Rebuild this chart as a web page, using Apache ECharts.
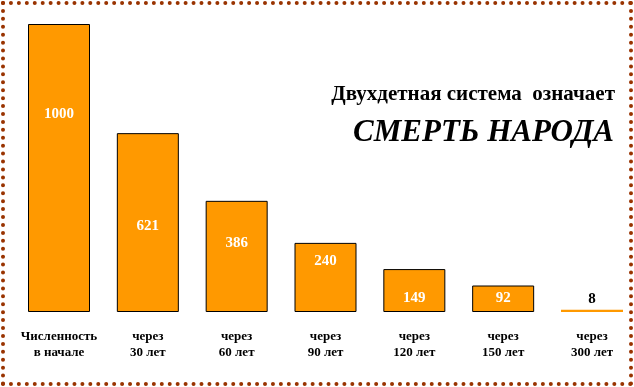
<!DOCTYPE html>
<html>
<head>
<meta charset="utf-8">
<script src="https://cdn.jsdelivr.net/npm/echarts@6/dist/echarts.min.js"></script>
<style>
  html, body { margin: 0; padding: 0; background: #fff; }
  #chart { position: absolute; left: 0; top: 0; width: 634px; height: 387px; }
  #frame { position: absolute; left: 1px; top: 1px; width: 632px; height: 385px;
           box-sizing: border-box; border: 4px dotted #993300; pointer-events: none; }
</style>
</head>
<body>
<div id="chart"></div>
<div id="frame"></div>
<script>
// ---- data ----
const categories = ['Численность\nв начале', 'через\n30 лет', 'через\n60 лет', 'через\n90 лет', 'через\n120 лет', 'через\n150 лет', 'через\n300 лет'];
const population = [1000, 621, 386, 240, 149, 92, 8];
const titleLine1 = 'Двухдетная система  означает';
const titleLine2 = 'СМЕРТЬ НАРОДА';

// ---- styles (not data) ----
const serif = "'Liberation Serif', 'Times New Roman', serif";
const labelLift = [190, 78, 61, 43, 6, 6, 3];

const chart = echarts.init(document.getElementById('chart'), null, { renderer: 'canvas' });

const seriesData = population.map((v, i) => {
  const last = i === population.length - 1;
  return {
    value: v,
    itemStyle: last ? { color: '#FF9900', borderWidth: 0 } : { color: '#FF9900', borderColor: '#000', borderWidth: 1 },
    label: last
      ? { position: 'top', distance: labelLift[i], color: '#000' }
      : { position: 'insideBottom', distance: labelLift[i], color: '#fff' }
  };
});

chart.setOption({
  animation: false,
  backgroundColor: 'transparent',
  grid: { left: 59, right: 42, top: 24, bottom: 75 },
  xAxis: {
    type: 'category',
    data: categories,
    boundaryGap: false,
    axisLine: { show: false },
    axisTick: { show: false },
    splitLine: { show: false },
    axisLabel: {
      interval: 0,
      margin: 17,
      fontFamily: serif,
      fontWeight: 'bold',
      fontSize: 13,
      lineHeight: 16,
      color: '#000'
    }
  },
  yAxis: {
    type: 'value',
    min: 0,
    max: 1000,
    show: false,
    splitLine: { show: false }
  },
  series: [{
    type: 'bar',
    data: seriesData,
    barWidth: 62,
    clip: false,
    label: {
      show: true,
      fontFamily: serif,
      fontWeight: 'bold',
      fontSize: 15
    }
  }],
  graphic: [
    {
      type: 'text',
      right: 19,
      top: 84,
      style: {
        text: titleLine1,
        fontFamily: serif,
        fontWeight: 'bold',
        fontSize: 21,
        fill: '#000'
      }
    },
    {
      type: 'text',
      right: 20,
      top: 117,
      style: {
        text: titleLine2,
        fontFamily: serif,
        fontStyle: 'italic',
        fontWeight: 'bold',
        fontSize: 31,
        fill: '#000'
      }
    }
  ]
});
</script>
</body>
</html>
